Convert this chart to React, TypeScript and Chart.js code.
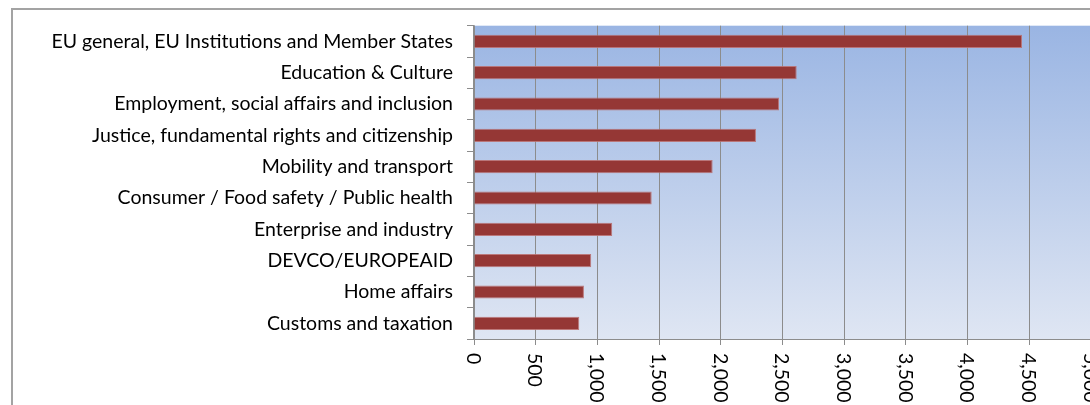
import React, { useEffect, useRef } from "react";
import { Chart, registerables } from "chart.js";

Chart.register(...registerables);

const categories = [
  "EU general, EU Institutions and Member States",
  "Education & Culture",
  "Employment, social affairs and inclusion",
  "Justice, fundamental rights and citizenship",
  "Mobility and transport",
  "Consumer / Food safety / Public health",
  "Enterprise and industry",
  "DEVCO/EUROPEAID",
  "Home affairs",
  "Customs and taxation",
];

const values = [4441, 2615, 2472, 2285, 1934, 1440, 1120, 950, 891, 853];

const xTickValues = [0, 500, 1000, 1500, 2000, 2500, 3000, 3500, 4000, 4500, 5000];
const xTickLabels = ["0", "500", "1,000", "1,500", "2,000", "2,500", "3,000", "3,500", "4,000", "4,500", "5,000"];

const FONT = "Lato, 'Open Sans', sans-serif";
const FONT_SIZE = 19.5;
const CANVAS_W = 1120;
const CANVAS_H = 405;

export default function App() {
  const ref = useRef<HTMLCanvasElement | null>(null);

  useEffect(() => {
    if (!ref.current) return;
    const bgPlugin = {
      id: "bgPlugin",
      beforeDraw(chart: any) {
        const { ctx, chartArea } = chart;
        ctx.save();
        ctx.strokeStyle = "#a3a3a3";
        ctx.lineWidth = 2;
        ctx.strokeRect(12, 9, 3000, 3000);
        const g = ctx.createLinearGradient(0, chartArea.top, 0, chartArea.bottom);
        g.addColorStop(0, "#9ab5e3");
        g.addColorStop(1, "#dfe6f3");
        ctx.fillStyle = g;
        ctx.fillRect(chartArea.left, chartArea.top, chartArea.right - chartArea.left, chartArea.bottom - chartArea.top);
        ctx.restore();
      },
      afterDraw(chart: any) {
        const { ctx } = chart;
        const xs = chart.scales.x;
        ctx.save();
        ctx.fillStyle = "#000";
        ctx.font = `${FONT_SIZE}px ${FONT}`;
        ctx.textAlign = "left";
        ctx.textBaseline = "middle";
        xTickValues.forEach((v, i) => {
          const x = xs.getPixelForValue(v);
          ctx.save();
          ctx.translate(x, chart.chartArea.bottom + 14);
          ctx.rotate(Math.PI / 2);
          ctx.fillText(xTickLabels[i], 0, 1);
          ctx.restore();
        });
        ctx.restore();
      },
    };

    const chart = new Chart(ref.current, {
      type: "bar",
      data: {
        labels: categories,
        datasets: [
          {
            data: values,
            backgroundColor: "#953735",
            borderColor: "rgba(185,110,110,0.9)",
            borderWidth: 1,
            barPercentage: 0.42,
            categoryPercentage: 1,
          },
        ],
      },
      options: {
        indexAxis: "y",
        responsive: false,
        animation: false,
        layout: { padding: { left: 0, right: CANVAS_W - 1091, top: 23, bottom: 0 } },
        plugins: { legend: { display: false }, tooltip: { enabled: false } },
        scales: {
          x: {
            min: 0,
            max: 5000,
            ticks: { display: false, stepSize: 500 },
            grid: { color: "#8c8c8c", lineWidth: 1, tickLength: 6, drawTicks: true },
            border: { color: "#8c8c8c", width: 1 },
            afterFit(scale: any) {
              scale.height = CANVAS_H - 339;
            },
          },
          y: {
            ticks: { color: "#000", font: { family: FONT, size: FONT_SIZE }, padding: 14 },
            grid: { drawOnChartArea: false, drawTicks: true, tickLength: 7, color: "#8c8c8c", offset: true },
            border: { color: "#8c8c8c", width: 1.5 },
            afterFit(scale: any) {
              scale.width = 474;
            },
          },
        },
      },
      plugins: [bgPlugin],
    });
    return () => chart.destroy();
  }, []);

  return (
    <div style={{ position: "fixed", left: 0, top: 0, width: 1090, height: 405, overflow: "hidden", background: "#fff" }}>
      <canvas ref={ref} width={CANVAS_W} height={CANVAS_H} style={{ display: "block", width: CANVAS_W, height: CANVAS_H }} />
    </div>
  );
}
